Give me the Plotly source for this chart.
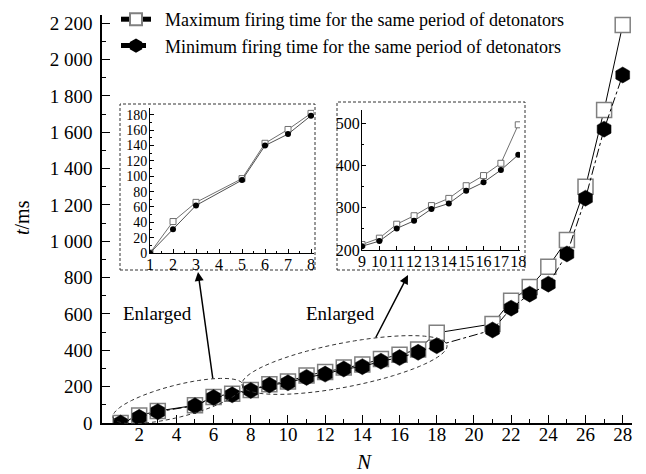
import numpy as np
import plotly.graph_objects as go

# ---------------- data ----------------
N = [1, 2, 3, 5, 6, 7, 8, 9, 10, 11, 12, 13, 14, 15, 16, 17, 18, 21, 22, 23, 24, 25, 26, 27, 28]
t_max = [0, 41, 66, 97, 143, 161, 182, 213, 228, 261, 281, 305, 322, 352, 376, 405, 496,
         545, 672, 748, 860, 1007, 1300, 1722, 2190]
t_min = [0, 31, 62, 95, 140, 155, 179, 209, 221, 251, 269, 297, 310, 340, 360, 389, 425,
         512, 632, 709, 764, 930, 1237, 1617, 1915]
name_max = "Maximum firing time for the same period of detonators"
name_min = "Minimum firing time for the same period of detonators"
y_ticks = list(range(0, 2201, 200))
y_ticklabels = [f"{v:,}".replace(",", " ") for v in y_ticks]
x_ticks = list(range(2, 29, 2))
inset1_x_ticks = list(range(1, 9))
inset2_x_ticks = list(range(9, 19))

# ---------------- geometry helpers (pixels -> paper) ----------------
W, H = 646, 474
L, R, T, B = 102, 632, 15, 423


def px(x):
    return (x - L) / (R - L)


def py(y):
    return (B - y) / (B - T)


FONT = "Liberation Serif, Times New Roman, serif"
PAD = "\u2002"

i1 = [i for i, n in enumerate(N) if n <= 8]
i2 = [i for i, n in enumerate(N) if 9 <= n <= 18]

fig = go.Figure()

# main traces
fig.add_trace(go.Scatter(
    x=N, y=t_max, name=PAD + name_max, mode="lines+markers",
    line=dict(color="black", width=1),
    marker=dict(symbol="square", size=15, color="white",
                line=dict(color="#808080", width=1.5)),
))
fig.add_trace(go.Scatter(
    x=N, y=t_min, name=PAD + name_min, mode="lines+markers",
    line=dict(color="black", width=1, dash="dashdot"),
    marker=dict(symbol="hexagon", size=16, color="black",
                line=dict(color="black", width=0.5)),
))

# inset 1
fig.add_trace(go.Scatter(
    x=[N[i] for i in i1], y=[t_max[i] for i in i1], mode="lines+markers",
    xaxis="x2", yaxis="y2", showlegend=False,
    line=dict(color="#707070", width=1),
    marker=dict(symbol="square", size=6, color="white", line=dict(color="#707070", width=1)),
))
fig.add_trace(go.Scatter(
    x=[N[i] for i in i1], y=[t_min[i] for i in i1], mode="lines+markers",
    xaxis="x2", yaxis="y2", showlegend=False,
    line=dict(color="#505050", width=1),
    marker=dict(symbol="circle", size=6, color="black"),
))
# inset 2
fig.add_trace(go.Scatter(
    x=[N[i] for i in i2], y=[t_max[i] for i in i2], mode="lines+markers",
    xaxis="x3", yaxis="y3", showlegend=False,
    line=dict(color="#707070", width=1),
    marker=dict(symbol="square", size=6, color="white", line=dict(color="#707070", width=1)),
))
fig.add_trace(go.Scatter(
    x=[N[i] for i in i2], y=[t_min[i] for i in i2], mode="lines+markers",
    xaxis="x3", yaxis="y3", showlegend=False,
    line=dict(color="#505050", width=1),
    marker=dict(symbol="circle", size=6, color="black"),
))

axis_common = dict(showgrid=False, zeroline=False, showline=True, linecolor="black",
                   ticks="inside", tickcolor="black", mirror=False)

shapes = []


def ellipse_path(cx, cy, a, b, ang_deg, n=80):
    th = np.linspace(0, 2 * np.pi, n)
    ang = np.deg2rad(ang_deg)
    ux, uy = np.cos(ang), -np.sin(ang)
    vx, vy = np.sin(ang), np.cos(ang)
    xs = cx + a * np.cos(th) * ux + b * np.sin(th) * vx
    ys = cy + a * np.cos(th) * uy + b * np.sin(th) * vy
    pts = [f"{px(x):.5f},{py(y):.5f}" for x, y in zip(xs, ys)]
    return "M" + " L".join(pts) + " Z"


shapes.append(dict(type="path", xref="paper", yref="paper",
                   path=ellipse_path(178, 401, 67, 16, 14.2),
                   line=dict(color="#333333", width=1, dash="4px,3px")))
shapes.append(dict(type="path", xref="paper", yref="paper",
                   path=ellipse_path(344.5, 365, 104.4, 22, 11),
                   line=dict(color="#333333", width=1, dash="4px,3px")))
# inset boxes
for (x0, y0, x1, y1) in [(120, 104, 315, 270), (337, 102, 525, 270)]:
    shapes.append(dict(type="rect", xref="paper", yref="paper",
                       x0=px(x0), x1=px(x1), y0=py(y1), y1=py(y0),
                       line=dict(color="#333333", width=1, dash="3px,2px"),
                       layer="below"))

annotations = [
    dict(text="Enlarged", xref="paper", yref="paper", x=px(157), y=py(313),
         xanchor="center", yanchor="middle",
         showarrow=False, font=dict(family=FONT, size=19, color="black")),
    dict(text="Enlarged", xref="paper", yref="paper", x=px(340), y=py(313),
         xanchor="center", yanchor="middle",
         showarrow=False, font=dict(family=FONT, size=19, color="black")),
    dict(text="", xref="paper", yref="paper", x=px(198), y=py(272),
         ax=15, ay=108, showarrow=True, arrowhead=2, arrowsize=1.2, arrowwidth=1.5,
         arrowcolor="black"),
    dict(text="", xref="paper", yref="paper", x=px(408), y=py(275),
         ax=-33, ay=64, showarrow=True, arrowhead=2, arrowsize=1.2, arrowwidth=1.5,
         arrowcolor="black"),
    dict(text="<i>N</i>", xref="paper", yref="paper", x=px(364), y=py(462),
         xanchor="center", yanchor="middle",
         showarrow=False, font=dict(family=FONT, size=21, color="black")),
    dict(text="<i>t</i>/ms", xref="paper", yref="paper", x=px(22), y=py(218),
         xanchor="center", yanchor="middle",
         showarrow=False, textangle=-90, font=dict(family=FONT, size=20, color="black")),
]

fig.update_layout(
    width=W, height=H,
    margin=dict(l=L, r=W - R, t=T, b=H - B, autoexpand=False),
    paper_bgcolor="white", plot_bgcolor="rgba(0,0,0,0)",
    font=dict(family=FONT, color="black"),
    showlegend=True,
    legend=dict(x=px(116), y=py(1), xanchor="left", yanchor="top",
                bgcolor="rgba(0,0,0,0)", font=dict(family=FONT, size=18, color="black"),
                itemwidth=30, tracegroupgap=0, itemsizing="constant"),
    xaxis=dict(**axis_common, range=[0, 28.5], domain=[0, 1],
               tickmode="array", tickvals=x_ticks, ticklen=8, tickwidth=1.2, linewidth=1.5,
               tickfont=dict(family=FONT, size=19), ticklabelstandoff=-7,
               minor=dict(dtick=1, tick0=0, ticks="inside", ticklen=4, tickcolor="black")),
    yaxis=dict(**axis_common, range=[0, 2245], domain=[0, 1],
               tickmode="array", tickvals=y_ticks, ticktext=y_ticklabels,
               ticklen=8, tickwidth=1.2, linewidth=1.5, ticklabelstandoff=4,
               tickfont=dict(family=FONT, size=19),
               minor=dict(dtick=100, tick0=0, ticks="inside", ticklen=4, tickcolor="black")),
    xaxis2=dict(**axis_common, anchor="y2", domain=[px(150), px(314)], range=[1, 8.13],
                tickmode="array", tickvals=inset1_x_ticks, ticklen=4, linewidth=1,
                tickfont=dict(family=FONT, size=16), ticklabelstandoff=-3, tickangle=0,
                minor=dict(dtick=0.5, tick0=1, ticks="inside", ticklen=2, tickcolor="black")),
    yaxis2=dict(**axis_common, anchor="x2", domain=[py(253), py(108)], range=[0, 189],
                dtick=20, tick0=0, ticklen=4, linewidth=1,
                tickfont=dict(family=FONT, size=14), ticklabelstandoff=-1,
                minor=dict(dtick=10, tick0=0, ticks="inside", ticklen=2, tickcolor="black")),
    xaxis3=dict(**axis_common, anchor="y3", domain=[px(362), px(520)], range=[9, 18.1],
                tickmode="array", tickvals=inset2_x_ticks, ticklen=4, linewidth=1,
                tickfont=dict(family=FONT, size=16), ticklabelstandoff=-3, tickangle=0),
    yaxis3=dict(**axis_common, anchor="x3", domain=[py(250), py(110)], range=[200, 531],
                dtick=100, tick0=0, ticklen=4, linewidth=1,
                tickfont=dict(family=FONT, size=16), ticklabelstandoff=-2,
                minor=dict(dtick=50, tick0=0, ticks="inside", ticklen=2, tickcolor="black")),
    shapes=shapes,
    annotations=annotations,
)

fig.write_html("out.html")
